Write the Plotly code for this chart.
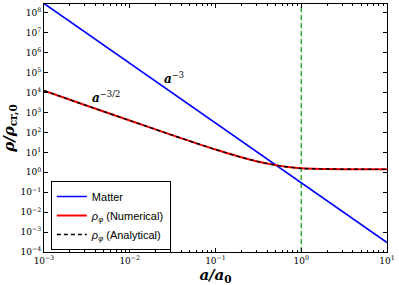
import plotly.graph_objects as go

# Data
a_matter = [1e-3, 1e1]
rho_matter = [3.0e8, 3.0e-4]

a_phi = [1e-3, 3e-3, 1e-2, 3e-2, 0.1, 0.2, 0.3, 0.5, 0.7, 1.0, 2.0, 5.0, 10.0]
rho_phi_num = [1.26e4, 2.4e3, 400, 78, 14, 5.7, 3.6, 2.3, 1.85, 1.58, 1.47, 1.42, 1.41]
rho_phi_ana = [1.26e4, 2.4e3, 400, 78, 14, 5.7, 3.6, 2.3, 1.85, 1.58, 1.47, 1.42, 1.41]

y_tick_exps = [8, 7, 6, 5, 4, 3, 2, 1, 0, -1, -2, -3, -4]
x_tick_exps = [-3, -2, -1, 0, 1]
minor_mults = [2, 3, 4, 5, 6, 7, 8, 9]

fig = go.Figure()
fig.add_trace(go.Scatter(x=a_matter, y=rho_matter, mode="lines", name="Matter",
                         line=dict(color="#0000ff", width=1.6)))
fig.add_trace(go.Scatter(x=a_phi, y=rho_phi_num, mode="lines", name="<i>ρ<sub>φ</sub></i> (Numerical)",
                         line=dict(color="#ff0000", width=2.0, shape="spline")))
fig.add_trace(go.Scatter(x=a_phi, y=rho_phi_ana, mode="lines", name="<i>ρ<sub>φ</sub></i> (Analytical)",
                         line=dict(color="black", width=1.4, dash="4px,3px", shape="spline")))

fig.add_shape(type="line", xref="x", yref="paper", x0=1, x1=1, y0=0, y1=1,
              line=dict(color="#22a822", width=1.4, dash="5px,3px"), layer="below")

fig.add_annotation(x=-1.48, y=4.72, xref="x", yref="y", text="<b><i>a</i></b><sup>−3</sup>",
                   showarrow=False, font=dict(family="DejaVu Serif", size=12, color="black"))
fig.add_annotation(x=-2.28, y=3.77, xref="x", yref="y", text="<b><i>a</i></b><sup>−3/2</sup>",
                   showarrow=False, font=dict(family="DejaVu Serif", size=12, color="black"))

def sup(e):
    s = str(e).replace("-", "−")
    return f"10<sup>{s}</sup>"

axis_common = dict(showline=True, linecolor="black", linewidth=1, mirror="ticks",
                   ticks="inside", ticklen=4, tickcolor="black", showgrid=False, zeroline=False,
                   tickfont=dict(family="DejaVu Serif", size=9, color="black"))

x_minor_vals = [m * 10 ** e for e in x_tick_exps[:-1] for m in minor_mults]

fig.update_xaxes(type="log", range=[-3, 1],
                 tickvals=[10 ** e for e in x_tick_exps], ticktext=[sup(e) for e in x_tick_exps],
                 minor=dict(tickvals=x_minor_vals, ticks="inside", ticklen=2, tickcolor="black", showgrid=False),
                 title=dict(text="<b><i>a/a</i><sub>0</sub></b>", font=dict(family="DejaVu Serif", size=15, color="black"),
                            standoff=2),
                 **axis_common)
fig.update_yaxes(type="log", range=[-4, 8.45],
                 tickvals=[10 ** e for e in y_tick_exps], ticktext=[sup(e) for e in y_tick_exps],
                 title=dict(text="<b><i>ρ/ρ</i><sub>cr,0</sub></b>", font=dict(family="DejaVu Serif", size=15, color="black"),
                            standoff=2),
                 **axis_common)

fig.update_layout(
    width=399, height=285,
    margin=dict(l=44, r=12, t=4, b=33),
    plot_bgcolor="white", paper_bgcolor="white",
    showlegend=True,
    legend=dict(x=0.02, y=0.008, xanchor="left", yanchor="bottom",
                bordercolor="black", borderwidth=1, bgcolor="white",
                font=dict(family="Liberation Sans", size=11, color="black"),
                tracegroupgap=0, itemwidth=30),
)

fig.write_html("out.html", post_script="document.body.style.margin='0';",
               config={"responsive": False, "displayModeBar": False})
